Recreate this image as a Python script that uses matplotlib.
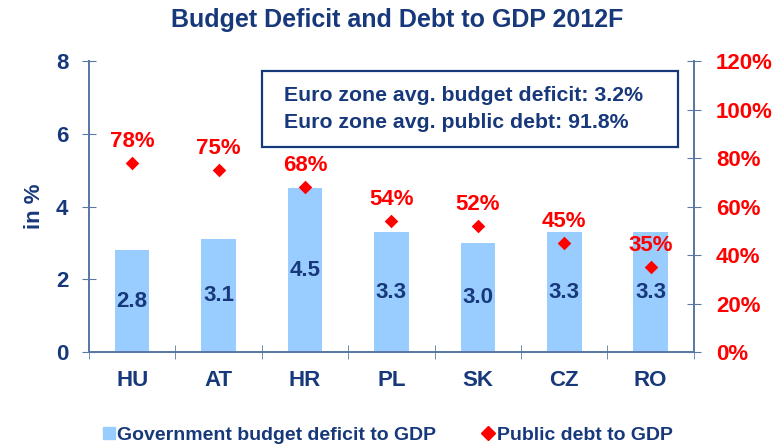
import numpy as np
import matplotlib.pyplot as plt
from matplotlib.lines import Line2D
from matplotlib.patches import Rectangle

plt.rcParams["font.family"] = ["Liberation Sans", "DejaVu Sans"]
plt.rcParams["font.weight"] = "bold"

# ---- data ----
countries = ["HU", "AT", "HR", "PL", "SK", "CZ", "RO"]
deficit = [2.8, 3.1, 4.5, 3.3, 3.0, 3.3, 3.3]      # % of GDP (left axis)
debt = [78, 75, 68, 54, 52, 45, 35]                 # % of GDP (right axis)
left_ticks = [0, 2, 4, 6, 8]
right_ticks = [0, 20, 40, 60, 80, 100, 120]

NAVY = "#17387A"
BAR = "#99CCFF"
RED = "#FF0000"
AXIS = "#5B78A6"

fig = plt.figure(figsize=(7.84, 4.44), dpi=100)
ax = fig.add_axes([0.1135, 0.207, 0.7715, 0.6556])
ax2 = ax.twinx()

x = np.arange(len(countries))
ax.bar(x, deficit, width=0.4, color=BAR, zorder=2)
for xi, v in zip(x, deficit):
    ax.text(xi, v / 2, f"{v:.1f}", ha="center", va="center",
            fontsize=16, fontweight="bold", color=NAVY, zorder=3)

ax2.scatter(x, debt, marker="D", s=48, color=RED, zorder=4, linewidths=0)
for xi, v in zip(x, debt):
    ax2.annotate(f"{v}%", (xi, v), xytext=(0, 15.5), textcoords="offset points",
                 ha="center", va="center", fontsize=16, fontweight="bold", color=RED)

ax.set_xlim(-0.5, len(countries) - 0.5)
ax.set_ylim(0, 8)
ax2.set_ylim(0, 120)

ax.set_yticks(left_ticks)
ax.set_yticklabels([str(t) for t in left_ticks], fontsize=16, fontweight="bold", color=NAVY)
ax2.set_yticks(right_ticks)
ax2.set_yticklabels([f"{t}%" for t in right_ticks], fontsize=16, fontweight="bold", color=RED)

ax.set_xticks(x)
ax.set_xticklabels(countries, fontsize=16, fontweight="bold", color=NAVY)
ax.set_xticks(np.arange(-0.5, len(countries)), minor=True)
ax.tick_params(axis="x", which="major", length=0, pad=13)
ax.tick_params(axis="x", which="minor", direction="inout", length=10, color=AXIS)
ax.tick_params(axis="y", direction="inout", length=10, color=AXIS, pad=10)
ax2.tick_params(axis="y", direction="inout", length=10, color=AXIS, pad=11)

ax.set_ylabel("in %", fontsize=16, fontweight="bold", color=NAVY, labelpad=8)

for a in (ax, ax2):
    a.spines["top"].set_visible(False)
    for s in ("left", "right", "bottom"):
        a.spines[s].set_color(AXIS)
        a.spines[s].set_linewidth(1.3)

fig.suptitle("Budget Deficit and Debt to GDP 2012F", x=0.506, y=0.983,
             fontsize=18, fontweight="bold", color=NAVY)

# info box (fixed frame, text placed inside)
ax2.add_patch(Rectangle((0.286, 0.7045), 0.6876, 0.2611, transform=ax2.transAxes,
                        fc="white", ec=NAVY, lw=1.6, zorder=5))
ax2.text(0.3223, 0.8355,
         "Euro zone avg. budget deficit: 3.2%\nEuro zone avg. public debt: 91.8%",
         transform=ax2.transAxes, ha="left", va="center", fontsize=15.3, fontweight="bold",
         color=NAVY, linespacing=1.5, zorder=6)

handles = [
    Line2D([], [], marker="s", ls="", color=BAR, markersize=8,
           label="Government budget deficit to GDP"),
    Line2D([], [], marker="D", ls="", color=RED, markersize=7,
           label="Public debt to GDP"),
]
leg = fig.legend(handles=handles, loc="lower center", bbox_to_anchor=(0.494, -0.04), ncol=2,
                 frameon=False, fontsize=14, columnspacing=2.3, handletextpad=0.1,
                 handlelength=0.7)
for t in leg.get_texts():
    t.set_color(NAVY)
    t.set_fontweight("bold")

fig.savefig("out.png", dpi=100)
